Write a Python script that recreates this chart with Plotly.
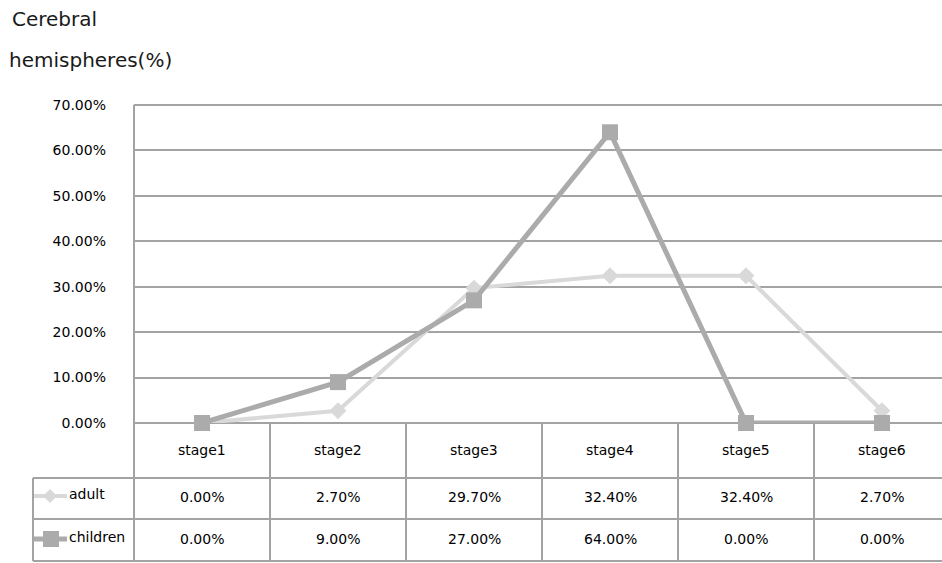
import plotly.graph_objects as go

# ---- data ----
stages = ["stage1", "stage2", "stage3", "stage4", "stage5", "stage6"]
adult = [0.0, 2.7, 29.7, 32.4, 32.4, 2.7]
children = [0.0, 9.0, 27.0, 64.0, 0.0, 0.0]
series_names = ["adult", "children"]
y_ticks = [0, 10, 20, 30, 40, 50, 60, 70]
title_lines = ["Cerebral", "hemispheres(%)"]

# ---- layout geometry (pixels) ----
W, H = 942, 563
L, T = 134, 105
BOT = 423
PH = BOT - T
PW = W - L
COL_W = 136
x_right = PW / COL_W - 0.5

def py(p):
    return (BOT - p) / PH

def pxx(p):
    return (p - L) / PW

GRID = "#a3a3a3"
ADULT_C = "#d9d9d9"
CHILD_C = "#ababab"
FONT = "DejaVu Sans"

fig = go.Figure()
fig.add_trace(go.Scatter(
    x=stages, y=adult, mode="lines+markers", name=series_names[0],
    line=dict(color=ADULT_C, width=4),
    marker=dict(symbol="diamond", size=13, color=ADULT_C),
    cliponaxis=False))
fig.add_trace(go.Scatter(
    x=stages, y=children, mode="lines+markers", name=series_names[1],
    line=dict(color=CHILD_C, width=5),
    marker=dict(symbol="square", size=16, color=CHILD_C),
    cliponaxis=False))

shapes = []
# left axis line extending through the table
shapes.append(dict(type="line", xref="paper", yref="paper", x0=0, x1=0,
                   y0=1, y1=py(562), line=dict(color=GRID, width=2), layer="below"))
# top gridline and x-axis baseline
for yy in [0, 1]:
    shapes.append(dict(type="line", xref="paper", yref="paper", x0=0, x1=1,
                       y0=yy, y1=yy, line=dict(color=GRID, width=2), layer="below"))
# table column separators
for i in range(len(stages)):
    shapes.append(dict(type="line", xref="x", yref="paper", x0=i + 0.5, x1=i + 0.5,
                       y0=0, y1=py(562), line=dict(color=GRID, width=2), layer="below"))
# table row lines (spanning legend column)
for yy in [478, 519, 561]:
    shapes.append(dict(type="line", xref="paper", yref="paper", x0=pxx(33), x1=1,
                       y0=py(yy), y1=py(yy), line=dict(color=GRID, width=2)))
# legend column left border
shapes.append(dict(type="line", xref="paper", yref="paper", x0=pxx(33), x1=pxx(33),
                   y0=py(478), y1=py(561), line=dict(color=GRID, width=2)))
# legend symbols
shapes.append(dict(type="line", xref="paper", yref="paper", x0=pxx(34), x1=pxx(67),
                   y0=py(496), y1=py(496), line=dict(color=ADULT_C, width=4)))
shapes.append(dict(type="path", xref="paper", yref="paper",
                   path=f"M {pxx(50)} {py(489)} L {pxx(57)} {py(496)} L {pxx(50)} {py(503)} L {pxx(43)} {py(496)} Z",
                   fillcolor=ADULT_C, line=dict(width=0)))
shapes.append(dict(type="line", xref="paper", yref="paper", x0=pxx(34), x1=pxx(67),
                   y0=py(539), y1=py(539), line=dict(color=CHILD_C, width=5)))
shapes.append(dict(type="rect", xref="paper", yref="paper", x0=pxx(43), x1=pxx(59),
                   y0=py(531), y1=py(547), fillcolor=CHILD_C, line=dict(width=0)))

annotations = []
tfont = dict(family=FONT, size=14, color="#000000")
for i, s in enumerate(stages):
    annotations.append(dict(x=i, y=py(450), xref="x", yref="paper", text=s,
                            showarrow=False, font=tfont, xanchor="center", yanchor="middle"))
    annotations.append(dict(x=i, y=py(497), xref="x", yref="paper", text=f"{adult[i]:.2f}%",
                            showarrow=False, font=tfont, xanchor="center", yanchor="middle"))
    annotations.append(dict(x=i, y=py(539), xref="x", yref="paper", text=f"{children[i]:.2f}%",
                            showarrow=False, font=tfont, xanchor="center", yanchor="middle"))
for name, yy in zip(series_names, [494, 537]):
    annotations.append(dict(x=pxx(67), y=py(yy), xref="paper", yref="paper", text=name,
                            showarrow=False, font=tfont, xanchor="left", yanchor="middle"))
# title lines
annotations.append(dict(x=pxx(10), y=py(19), xref="paper", yref="paper", text=title_lines[0],
                        showarrow=False, font=dict(family=FONT, size=20, color="#1a1a1a"),
                        xanchor="left", yanchor="middle"))
annotations.append(dict(x=pxx(7), y=py(60), xref="paper", yref="paper", text=title_lines[1],
                        showarrow=False, font=dict(family=FONT, size=20, color="#1a1a1a"),
                        xanchor="left", yanchor="middle"))

fig.update_layout(
    width=W, height=H,
    margin=dict(l=L, r=0, t=T, b=H - BOT, pad=0),
    paper_bgcolor="white", plot_bgcolor="white",
    showlegend=False,
    shapes=shapes, annotations=annotations,
    xaxis=dict(type="category", categoryorder="array", categoryarray=stages,
               range=[-0.5, x_right], showticklabels=False, showgrid=False,
               zeroline=False, showline=False, ticks=""),
    yaxis=dict(range=[0, 70], tickvals=y_ticks,
               ticktext=[f"{v:.2f}%" for v in y_ticks],
               showgrid=True, gridcolor=GRID, gridwidth=2, zeroline=False,
               showline=False, ticks="", ticklabelstandoff=27,
               tickfont=dict(family=FONT, size=14, color="#000000")),
)

fig.write_html("out.html")
